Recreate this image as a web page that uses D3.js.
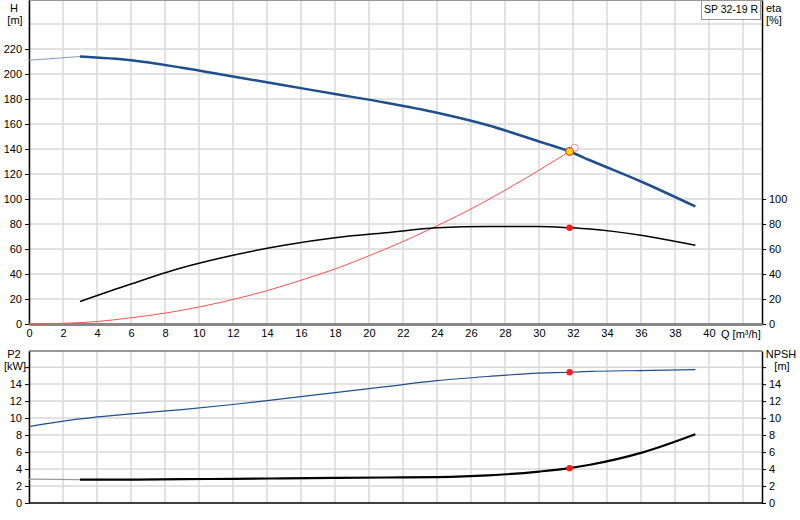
<!DOCTYPE html>
<html><head><meta charset="utf-8">
<script src="https://cdn.jsdelivr.net/npm/d3@7"></script>
<style>body{margin:0;background:#fff}text{font-family:"Liberation Sans",Arial,sans-serif;font-size:11px;fill:#000}</style>
</head><body><svg id="c" width="800" height="520"></svg>
<script>
const qH = [0, 3, 6, 9, 12, 15, 18, 21, 24, 27, 30, 31.8, 33, 36, 39.2];
const hVals = [211, 214, 211, 205, 198, 191, 184, 177, 169, 159, 146, 138, 131, 114, 94];
const qSys = [0, 2, 4, 6, 8, 10, 12, 14, 16, 18, 20, 22, 24, 26, 28, 30, 31.8];
const sysVals = [0, 0.5, 2, 5, 8.7, 13.6, 19.6, 26.7, 35, 44, 54.6, 66, 78.6, 92, 107, 123, 138];
const qEta = [3, 6, 9, 12, 15, 18, 21, 24, 27, 30, 31.8, 33, 36, 39.2];
const etaVals = [18, 32, 45, 55, 63, 69, 73, 77, 78, 78, 77, 76, 71, 63];
const p2Vals = [9, 9.9, 10.5, 11, 11.6, 12.3, 13, 13.7, 14.4, 14.9, 15.3, 15.4, 15.5, 15.6, 15.7];
const npshVals = [2.8, 2.75, 2.75, 2.8, 2.85, 2.9, 2.95, 3.0, 3.05, 3.25, 3.7, 4.1, 4.5, 5.9, 8.1];
const duty = { q: 31.8, h: 138, eta: 77, p2: 15.4, npsh: 4.1 };
const hTicks = [0, 20, 40, 60, 80, 100, 120, 140, 160, 180, 200, 220];
const etaTicks = [0, 20, 40, 60, 80, 100];
const pTicks = [0, 2, 4, 6, 8, 10, 12, 14];
const qTicks = d3.range(0, 42, 2);

const svg = d3.select('#c');
const x = d3.scaleLinear().domain([0, 43.12]).range([29, 762]);
const yH = d3.scaleLinear().domain([0, 259.2]).range([324, 0]);
const yP = d3.scaleLinear().domain([0, 17.9]).range([503, 351]);

function grid(y, yTicksAll, top, bottom) {
	const g = svg.append('g').attr('stroke', '#d8d8d8').attr('stroke-width', 1.5);
	qTicks.concat([42]).forEach(q => g.append('line').attr('x1', x(q)).attr('x2', x(q)).attr('y1', top).attr('y2', bottom));
	yTicksAll.forEach(v => g.append('line').attr('x1', x(0)).attr('x2', x.range()[1]).attr('y1', y(v)).attr('y2', y(v)));
}
grid(yH, d3.range(20, 260, 20), 0, 324);
grid(yP, d3.range(2, 18, 2), 351, 503);

// frames
svg.append('line').attr('x1', 29).attr('x2', 762).attr('y1', 0.5).attr('y2', 0.5).attr('stroke', '#999');
svg.append('line').attr('x1', 29).attr('x2', 762).attr('y1', 351).attr('y2', 351).attr('stroke', '#777').attr('stroke-width', 1.5);

// axes
const ax = (sel, axis) => { sel.call(axis); sel.select('.domain').attr('stroke', '#000').attr('stroke-width', 1.5); sel.selectAll('text').style('font-size', '11px'); return sel; };
ax(svg.append('g').attr('transform', 'translate(29,0)'), d3.axisLeft(yH).tickValues(hTicks).tickSize(4).tickSizeOuter(0));
ax(svg.append('g').attr('transform', 'translate(762,0)'), d3.axisRight(yH).tickValues(etaTicks).tickSize(4).tickSizeOuter(0));
const xa = ax(svg.append('g').attr('transform', 'translate(0,324)'), d3.axisBottom(x).tickValues(qTicks).tickSize(0).tickPadding(5).tickSizeOuter(0));
xa.select('.domain').attr('stroke', '#888').attr('stroke-width', 3);
ax(svg.append('g').attr('transform', 'translate(29,0)'), d3.axisLeft(yP).tickValues(pTicks.concat([16])).tickFormat(d => d === 16 ? '' : d).tickSize(4).tickSizeOuter(0));
ax(svg.append('g').attr('transform', 'translate(762,0)'), d3.axisRight(yP).tickValues(pTicks.concat([16])).tickFormat(d => d === 16 ? '' : d).tickSize(4).tickSizeOuter(0));
svg.append('line').attr('x1', 29).attr('x2', 762).attr('y1', 503).attr('y2', 503).attr('stroke', '#000').attr('stroke-width', 1.5);

// labels
const lab = (t, lx, ly, anchor) => svg.append('text').attr('x', lx).attr('y', ly).attr('text-anchor', anchor || 'middle').text(t);
lab('H', 14, 12); lab('[m]', 15, 24);
lab('eta', 766, 12, 'start'); lab('[%]', 766, 24, 'start');
lab('Q [m³/h]', 721, 338, 'start');
lab('P2', 14, 358); lab('[kW]', 15, 370);
lab('NPSH', 781, 358); lab('[m]', 782, 370);
svg.append('rect').attr('x', 701.5).attr('y', 0.5).attr('width', 59).attr('height', 19).attr('fill', '#fff').attr('stroke', '#999');
lab('SP 32-19 R', 731, 13).style('font-size', '10.5px');

// curves
const line = (xs, ys, y) => d3.line().curve(d3.curveMonotoneX).x((d, i) => x(xs[i])).y(d => y(d))(ys);
const draw = (xs, ys, y, col, w) => svg.append('path').attr('d', line(xs, ys, y)).attr('fill', 'none').attr('stroke', col).attr('stroke-width', w);
draw(qSys, sysVals, yH, '#ff5050', 1);
draw(qH.slice(0, 2), hVals.slice(0, 2), yH, '#7f9fbf', 1.2);
draw(qH.slice(1), hVals.slice(1), yH, '#1f4e8c', 2.5);
draw(qEta, etaVals, yH, '#000', 1.5);
draw(qH, p2Vals, yP, '#1f4e8c', 1.2);
draw(qH.slice(0, 2), npshVals.slice(0, 2), yP, '#999', 1.2);
draw(qH.slice(1), npshVals.slice(1), yP, '#000', 2.2);

// duty point markers
svg.append('circle').attr('cx', x(duty.q + 0.3)).attr('cy', yH(duty.h + 3)).attr('r', 3.5).attr('fill', '#fff').attr('stroke', '#ff8080');
svg.append('circle').attr('cx', x(duty.q)).attr('cy', yH(duty.h)).attr('r', 3.8).attr('fill', '#ffe000').attr('stroke', '#ff3030').attr('stroke-width', 1.2);
[[duty.eta, yH], [duty.p2, yP], [duty.npsh, yP]].forEach(([v, y]) =>
	svg.append('circle').attr('cx', x(duty.q)).attr('cy', y(v)).attr('r', 3.2).attr('fill', '#ff1a1a'));
</script></body></html>
